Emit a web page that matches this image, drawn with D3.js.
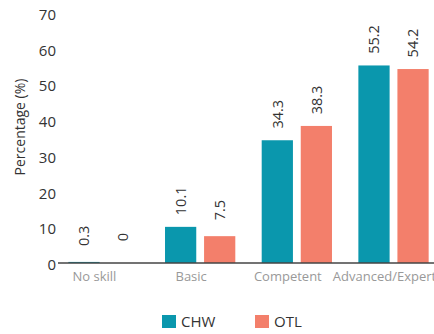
<!DOCTYPE html>
<html>
<head>
<meta charset="utf-8">
<script src="https://cdn.jsdelivr.net/npm/d3@7"></script>
<style>
  html, body { margin: 0; padding: 0; background: #fff; }
  svg { display: block; font-family: "Open Sans", "Noto Sans", sans-serif; }
</style>
</head>
<body>
<svg id="chart" width="434" height="334"></svg>
<script>
// Skill level categories and the share of each group (%)
const categories = ["No skill", "Basic", "Competent", "Advanced/Expert"];
const seriesNames = ["CHW", "OTL"];
const chwValues = [0.3, 10.1, 34.3, 55.2];
const otlValues = [0, 7.5, 38.3, 54.2];
const yTicks = [0, 10, 20, 30, 40, 50, 60, 70];
const colors = { CHW: "#0a97ad", OTL: "#f37f6b" };

const svg = d3.select("#chart");
const width = 434;

const x0 = d3.scaleBand()
  .domain(categories)
  .range([58, 439])
  .paddingInner(0.273)
  .paddingOuter(0.107);

const x1 = d3.scaleBand()
  .domain(seriesNames)
  .range([0, x0.bandwidth()])
  .paddingInner(0.2)
  .paddingOuter(0);

const y = d3.scaleLinear()
  .domain([0, 70])
  .range([263, 12.5]);

const rows = categories.map((c, i) => ({
  category: c,
  values: [
    { key: "CHW", value: chwValues[i] },
    { key: "OTL", value: otlValues[i] }
  ]
}));

// Y axis: labels only, no domain line or tick marks
const yAxis = svg.append("g")
  .attr("transform", "translate(56,0)")
  .call(d3.axisLeft(y).tickValues(yTicks).tickSize(0).tickPadding(0));
yAxis.select(".domain").remove();
yAxis.selectAll("text")
  .attr("font-size", 15)
  .attr("fill", "#333")
  .attr("dy", "0.45em")
  .style("font-family", "'Open Sans', sans-serif");

// Y axis title
svg.append("text")
  .attr("transform", "translate(25,127) rotate(-90)")
  .attr("text-anchor", "middle")
  .attr("font-size", 14)
  .attr("fill", "#333")
  .text("Percentage (%)");

// Bars
const groups = svg.append("g").selectAll("g")
  .data(rows)
  .join("g")
  .attr("transform", d => `translate(${x0(d.category)},0)`);

groups.selectAll("rect")
  .data(d => d.values)
  .join("rect")
  .attr("x", d => x1(d.key))
  .attr("y", d => y(d.value))
  .attr("width", x1.bandwidth())
  .attr("height", d => y(0) - y(d.value))
  .attr("fill", d => colors[d.key]);

// Value labels, rotated above each bar
groups.selectAll("text.value")
  .data(d => d.values)
  .join("text")
  .attr("class", "value")
  .attr("transform", d => `translate(${x1(d.key) + x1.bandwidth() / 2},${y(d.value) - 26}) rotate(-90)`)
  .attr("text-anchor", "middle")
  .attr("dy", "0.36em")
  .attr("font-size", 14.5)
  .attr("fill", "#333")
  .text(d => d.value);

// Baseline
svg.append("line")
  .attr("x1", 58).attr("x2", width)
  .attr("y1", y(0)).attr("y2", y(0))
  .attr("stroke", "#444")
  .attr("stroke-width", 1.5);

// Category labels
svg.append("g").selectAll("text")
  .data(categories)
  .join("text")
  .attr("x", d => x0(d) + x0.bandwidth() / 2 - 9)
  .attr("y", 281)
  .attr("text-anchor", "middle")
  .attr("font-size", 13)
  .attr("fill", "#999")
  .text(d => d);

// Legend
const legend = svg.append("g").selectAll("g")
  .data([{ key: "CHW", x: 162 }, { key: "OTL", x: 255 }])
  .join("g")
  .attr("transform", d => `translate(${d.x},315)`);
legend.append("rect")
  .attr("width", 14).attr("height", 13)
  .attr("fill", d => colors[d.key]);
legend.append("text")
  .attr("x", 19).attr("y", 12)
  .attr("font-size", 15)
  .attr("fill", "#333")
  .text(d => d.key);
</script>
</body>
</html>
